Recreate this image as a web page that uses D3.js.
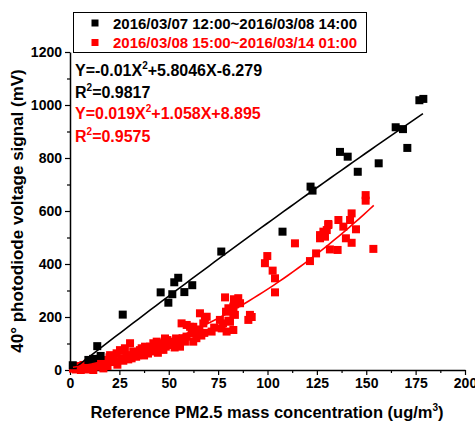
<!DOCTYPE html>
<html>
<head>
<meta charset="utf-8">
<script src="https://cdn.jsdelivr.net/npm/d3@7"></script>
<style>
  body { margin: 0; background: #fff; }
  text { font-family: Arial, "Liberation Sans", sans-serif; font-weight: bold; }
</style>
</head>
<body>
<svg width="475" height="423"></svg>
<script>
// series 1: 2016/03/07 12:00~2016/03/08 14:00
const blackX = [1.4, 9.3, 11.7, 13.8, 15.5, 26.7, 45.9, 49.8, 51.8, 52.8, 54.8, 57.9, 61.9, 76.6,
  107.6, 121.8, 122.8, 136.7, 140.6, 145.7, 156.3, 164.9, 168.6, 170.8, 176.9, 178.9]
const blackY = [18, 38, 42, 90, 53, 209, 293, 254, 286, 331, 348, 294, 320, 447,
  522, 692, 677, 823, 805, 748, 780, 916, 909, 838, 1018, 1023]

// series 2: 2016/03/08 15:00~2016/03/14 01:00
const redX = [1.5, 2.5, 3, 4.2, 5, 5.5, 6.8, 7, 8.4, 9, 9.5,
  11, 11.8, 12.5, 13.5, 14, 15, 16, 16.9, 17.5, 18.6, 19, 20,
  20.3, 21.9, 22.5, 23.6, 24, 25.3, 26, 27, 27.8, 28.7, 29.5,
  30.4, 31.2, 32, 32.9, 33.5, 34.6, 35.4, 36.3, 37.1, 37.5, 38, 38.9, 39.5,
  40.5, 41, 42.2, 43, 43.9, 44.5, 45.6, 46.2, 46.9, 47.3, 48.1, 48.5, 49.3, 49.8,
  51.5, 52.3, 53, 53.7, 54.5, 55.3, 55.7, 56.5, 57, 58.2, 59, 59.1, 60.8,
  61.6, 62.4, 62.4, 63.3, 64, 65.5, 65.8, 66.5, 67.5, 68.3, 69.2, 68,
  71.7, 73, 75.9, 76.8, 77.5, 78.5, 79, 79.3, 80.2, 80.2, 81, 82.7, 82.7, 83, 83.5, 82.7, 84.4, 85.2, 86.1, 83.5,
  90.3, 91.1, 92,
  98.7, 99.9, 102.6, 103.8, 103.8, 113.9, 121.5, 124.6,
  126.6, 126.6, 128.3, 129.1, 130, 130.8, 130.8, 131.6, 135.5, 135.9, 138.4, 139.7, 141.8, 142.6, 142.6, 144.8,
  149.7, 149.7, 153.6]
const redY = [5, 13, 2, 6, 15, 0, 19, 4, 10, 25, 2,
  19, 0, 30, 13, 40, 22, 25, 6, 32, 38, 15, 48,
  56, 44, 30, 63, 20, 75, 45, 35, 82, 56, 40,
  101, 44, 70, 63, 50, 56, 75, 82, 69, 55, 88, 76, 62,
  88, 70, 101, 80, 107, 65, 91, 78, 101, 76, 119, 88, 113, 95,
  94, 107, 85, 119, 100, 113, 88, 176, 120, 107, 126, 170, 163,
  138, 163, 107, 147, 120, 153, 214, 130, 176, 191, 201, 140,
  145, 160, 189, 157, 176, 274, 220, 145, 233, 186, 182, 214, 151, 267, 248, 239, 252, 271, 252, 208,
  189, 208, 200,
  403, 430, 375, 346, 293, 478, 411, 440,
  509, 497, 522, 503, 528, 547, 551, 455, 453, 566, 541, 497, 566, 591, 480, 531,
  660, 639, 457]

// fitted curves, coefficients [a, b, c] of a*x^2 + b*x + c and x range of the drawn curve
const blackFit = [-0.002, 5.8046, -6.279], blackFitRange = [2.5, 178.7]
const redFit = [0.019, 1.058, 8.895], redFitRange = [1.5, 153.8]

const legendLabels = ["2016/03/07 12:00~2016/03/08 14:00", "2016/03/08 15:00~2016/03/14 01:00"]
const xTicks = [0, 25, 50, 75, 100, 125, 150, 175, 200]
const yTicks = [0, 200, 400, 600, 800, 1000, 1200]

const svg = d3.select("svg")
const x = d3.scaleLinear().domain([0, 200]).range([70, 465])
const y = d3.scaleLinear().domain([0, 1200]).range([370, 52])

// axes
svg.append("g").attr("transform", "translate(0,370)")
  .call(d3.axisBottom(x).tickValues(xTicks).tickFormat(d3.format("d"))
    .tickSize(5).tickSizeOuter(0).tickPadding(3))
svg.append("g").attr("transform", "translate(0,370)")
  .call(d3.axisBottom(x).tickValues(d3.range(12.5, 200, 25)).tickSize(3).tickFormat(""))
  .select(".domain").remove()
svg.append("g").attr("transform", "translate(70,0)")
  .call(d3.axisLeft(y).tickValues(yTicks).tickFormat(d3.format("d"))
    .tickSize(5).tickSizeOuter(0).tickPadding(3))
svg.append("g").attr("transform", "translate(70,0)")
  .call(d3.axisLeft(y).tickValues(d3.range(100, 1200, 200)).tickSize(3).tickFormat(""))
  .select(".domain").remove()

svg.selectAll(".domain").attr("stroke-width", 1.5)
svg.selectAll(".tick line").attr("stroke-width", 1.2)
svg.selectAll(".tick text").attr("font-size", 14).attr("font-weight", "bold")
  .attr("font-family", "Arial, 'Liberation Sans', sans-serif").attr("fill", "#000")

// axis titles
const xt = svg.append("text").attr("x", 267).attr("y", 418)
  .attr("text-anchor", "middle").attr("font-size", 16.5)
xt.append("tspan").text("Reference PM2.5 mass concentration (ug/m")
xt.append("tspan").attr("dy", -7).attr("font-size", 10).text("3")
xt.append("tspan").attr("dy", 7).text(")")

svg.append("text")
  .attr("transform", "translate(23,211) rotate(-90)")
  .attr("text-anchor", "middle").attr("font-size", 17)
  .text("40° photodiode voltage signal (mV)")

// points
const sq = 8
svg.append("g").selectAll("rect")
  .data(d3.zip(redX, redY))
  .join("rect")
  .attr("x", d => x(d[0]) - sq / 2).attr("y", d => y(d[1]) - sq / 2)
  .attr("width", sq).attr("height", sq).attr("fill", "#ff0000")

svg.append("g").selectAll("rect")
  .data(d3.zip(blackX, blackY))
  .join("rect")
  .attr("x", d => x(d[0]) - sq / 2).attr("y", d => y(d[1]) - sq / 2)
  .attr("width", sq).attr("height", sq).attr("fill", "#000")

// fit curves
const fitLine = d3.line().x(d => x(d[0])).y(d => y(d[1]))
function fitPoints(c, r) {
  return d3.range(r[0], r[1] + 0.001, (r[1] - r[0]) / 60)
    .map(v => [v, c[0] * v * v + c[1] * v + c[2]])
}
svg.append("path").attr("d", fitLine(fitPoints(blackFit, blackFitRange)))
  .attr("fill", "none").attr("stroke", "#000").attr("stroke-width", 1.6)
svg.append("path").attr("d", fitLine(fitPoints(redFit, redFitRange)))
  .attr("fill", "none").attr("stroke", "#ff0000").attr("stroke-width", 1.6)

// legend
const legend = svg.append("g")
legend.append("rect").attr("x", 73.5).attr("y", 12.5).attr("width", 293).attr("height", 40)
  .attr("fill", "#fff").attr("stroke", "#000").attr("stroke-width", 1)
const legendColors = ["#000", "#ff0000"]
legendLabels.forEach((lab, i) => {
  const cy = 23 + i * 19.5
  legend.append("rect").attr("x", 91.5).attr("y", cy - 3.5).attr("width", 7).attr("height", 7)
    .attr("fill", legendColors[i])
  legend.append("text").attr("x", 113).attr("y", cy + 5.5).attr("font-size", 15)
    .attr("fill", legendColors[i]).text(lab)
})

// equations: [text before superscript, superscript, text after]
function supText(xp, yp, parts, color) {
  const t = svg.append("text").attr("x", xp).attr("y", yp).attr("font-size", 16).attr("fill", color)
  t.append("tspan").text(parts[0])
  t.append("tspan").attr("dy", -7).attr("font-size", 10).text(parts[1])
  t.append("tspan").attr("dy", 7).text(parts[2])
}
supText(75, 76, ["Y=-0.01X", "2", "+5.8046X-6.279"], "#000")
supText(75, 98, ["R", "2", "=0.9817"], "#000")
supText(75, 119, ["Y=0.019X", "2", "+1.058X+8.895"], "#ff0000")
supText(75, 142, ["R", "2", "=0.9575"], "#ff0000")
</script>
</body>
</html>
